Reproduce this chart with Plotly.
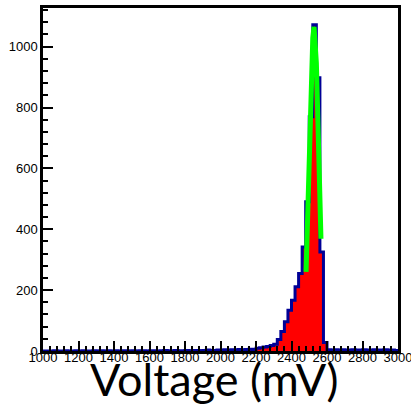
import plotly.graph_objects as go

# ---- data ----
bin_start = list(range(1000, 3000, 20))  # 100 bins, 20 mV wide
counts = [
    0, 0, 0, 1, 0, 0, 1, 0, 0, 1,          # 1000-1180
    0, 1, 0, 0, 1, 0, 1, 0, 1, 0,          # 1200-1380
    1, 0, 1, 1, 0, 1, 0, 1, 1, 0,          # 1400-1580
    1, 1, 0, 1, 2, 1, 1, 2, 1, 1,          # 1600-1780
    2, 1, 2, 2, 1, 2, 3, 2, 2, 3,          # 1800-1980
    3, 4, 3, 4, 4, 5, 4, 5, 6, 5,          # 2000-2180
    9, 11, 13, 15, 18, 22, 38, 64, 96, 134,  # 2200-2380
    167, 211, 255, 342, 490, 770, 1072, 898, 325, 28,  # 2400-2580
    4, 3, 4, 3, 4, 3, 3, 4, 3, 3,          # 2600-2780
    4, 3, 3, 4, 3, 3, 4, 3, 3, 2,          # 2800-2980
]
x_end = 3000

fit_x = [2482, 2495, 2510, 2520, 2527, 2540, 2555, 2566]
fit_y = [260, 522, 871, 1029, 1065, 947, 617, 369]

x_ticks = list(range(1000, 3001, 200))
y_ticks = [0, 200, 400, 600, 800, 1000]
x_title = "Voltage (mV)"

# ---- figure ----
step_x = bin_start + [x_end]
step_y = counts + [counts[-1]]

fig = go.Figure()
fig.add_trace(go.Scatter(
    x=step_x, y=step_y, mode="lines", line_shape="hv",
    line=dict(color="rgb(0,0,150)", width=3),
    fill="tozeroy", fillcolor="#ff0000", hoverinfo="skip", showlegend=False))
fig.add_trace(go.Scatter(
    x=fit_x, y=fit_y, mode="lines",
    line=dict(color="#00ff00", width=5), hoverinfo="skip", showlegend=False))

axis_common = dict(
    showline=True, linecolor="black", linewidth=2.5, mirror=True,
    showgrid=False, zeroline=False, ticks="inside", tickcolor="black",
    ticklen=10, tickwidth=2, automargin=False,
    tickfont=dict(family="Liberation Sans, Arial", size=13, color="black"),
)

fig.update_xaxes(range=[1000, 3000], tickvals=x_ticks,
                 ticktext=[str(v) for v in x_ticks],
                 ticklabeloverflow="allow", ticklabelstandoff=-7,
                 minor=dict(dtick=40, ticks="inside", ticklen=5, tickwidth=1.5,
                            tickcolor="black"),
                 **axis_common)
fig.update_yaxes(range=[0, 1127], tickvals=y_ticks,
                 ticktext=[str(v) for v in y_ticks],
                 minor=dict(dtick=40, ticks="inside", ticklen=5, tickwidth=1.5,
                            tickcolor="black"),
                 **axis_common)

fig.add_annotation(text=x_title, xref="paper", yref="paper",
                   x=0.4817, y=0.003, xanchor="center", yanchor="top",
                   showarrow=False,
                   font=dict(family="Lato, Open Sans", size=45, color="black"))

fig.update_layout(width=411, height=405,
                  margin=dict(l=43, r=13, t=8, b=54),
                  paper_bgcolor="white", plot_bgcolor="white")

fig.write_html("out.html")
